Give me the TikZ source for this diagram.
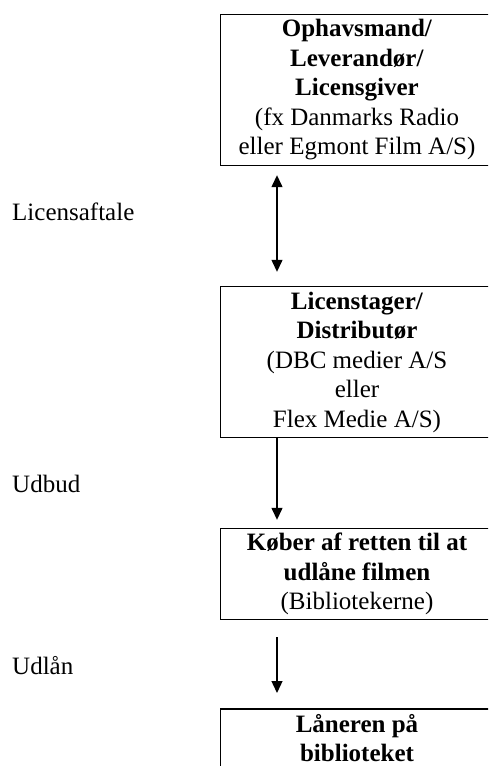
\documentclass[tikz,border=0pt]{standalone}
\usepackage{fontspec}
\setmainfont{Liberation Serif}
\usetikzlibrary{arrows.meta}
\begin{document}
\begin{tikzpicture}[x=1pt,y=-1pt,
  boks/.style={minimum width=272pt,inner sep=2pt,align=center,font=\fontsize{25}{29.5}\selectfont},
  ramme/.style={line width=1.3pt},
  tekst/.style={anchor=base west,inner sep=0pt,font=\fontsize{25}{29.5}\selectfont},
  pil/.style={line width=1.3pt,-{Triangle[length=12pt,width=11pt]}},
  dobbeltpil/.style={line width=1.3pt,{Triangle[length=12pt,width=11pt]}-{Triangle[length=12pt,width=11pt]}}]
\useasboundingbox (0,0) rectangle (488,766);
\clip (0,0) rectangle (488,766);
\node[boks,minimum height=150pt] (giver) at (357,90) {\textbf{Ophavsmand/}\\\textbf{Leverandør/}\\\textbf{Licensgiver}\\(fx Danmarks Radio\\eller Egmont Film A/S)};
\node[boks,minimum height=150pt] (tager) at (357,362) {\textbf{Licenstager/}\\\textbf{Distributør}\\(DBC medier A/S\\eller\\Flex Medie A/S)};
\node[boks,minimum height=90pt] (koeber) at (357,574) {\textbf{Køber af retten til at}\\\textbf{udlåne filmen}\\(Bibliotekerne)};
\node[boks,anchor=north,minimum height=58pt] (laaner) at (357,709) {\textbf{Låneren på}\\\textbf{biblioteket}};
% rammerne gaar ud over hoejre kant
\draw[ramme] (giver.north east) -- (giver.north west) -- (giver.south west) -- (giver.south east);
\draw[ramme] (tager.north east) -- (tager.north west) -- (tager.south west) -- (tager.south east);
\draw[ramme] (koeber.north east) -- (koeber.north west) -- (koeber.south west) -- (koeber.south east);
\draw[ramme] (laaner.north east) -- (laaner.north west) -- (laaner.south west);
\node[tekst] (aftale) at (12,220) {Licensaftale};
\node[tekst] (udbud) at (12,492) {Udbud};
\node[tekst] (udlaan) at (12,674) {Udlån};
\draw[dobbeltpil,shorten <=10pt,shorten >=15pt] ([xshift=-80pt]giver.south) -- ([xshift=-80pt]tager.north);
\draw[pil,shorten >=9pt] ([xshift=-80pt]tager.south) -- ([xshift=-80pt]koeber.north);
\draw[pil,shorten <=18pt,shorten >=16pt] ([xshift=-80pt]koeber.south) -- ([xshift=-80pt]laaner.north);
\end{tikzpicture}
\end{document}
